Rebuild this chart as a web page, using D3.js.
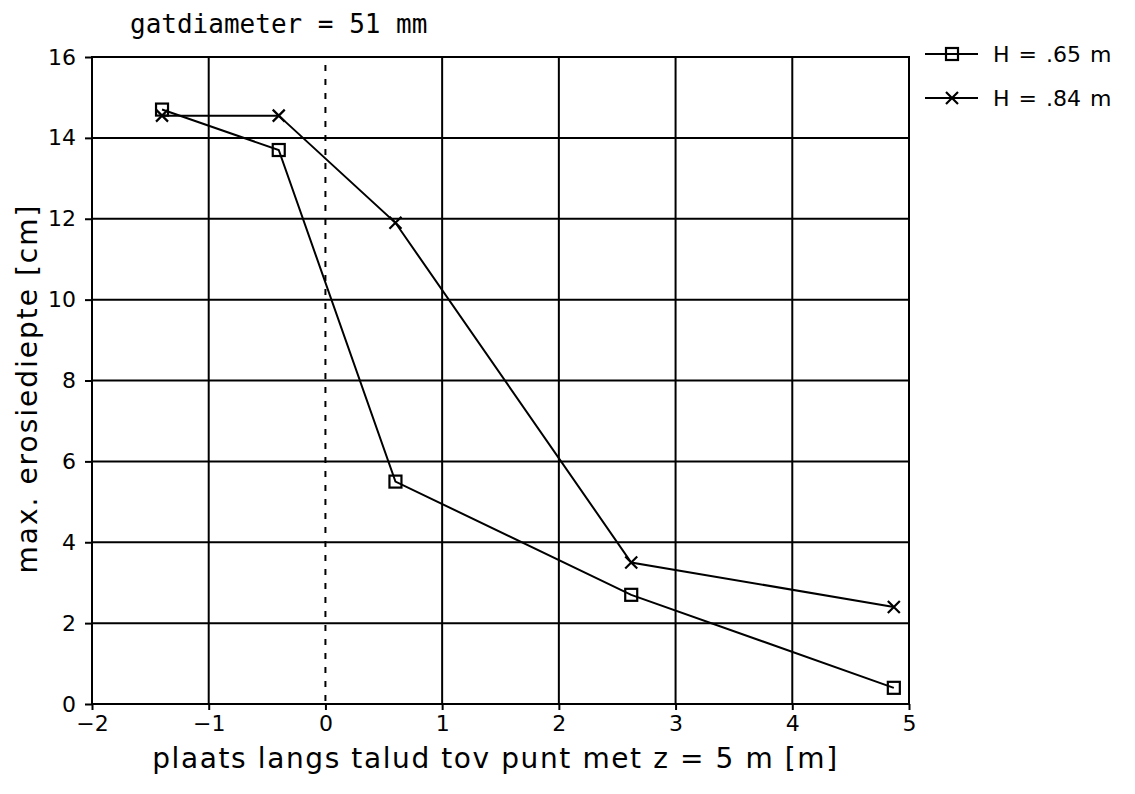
<!DOCTYPE html>
<html>
<head>
<meta charset="utf-8">
<script src="https://cdn.jsdelivr.net/npm/d3@7"></script>
<style>
  body { margin: 0; background: #fff; }
  svg { display: block; }
</style>
</head>
<body>
<div id="chart"></div>
<script>
const width = 1135
const height = 794

// data
const xPos = [-1.4, -0.4, 0.6, 2.62, 4.87]
const depth65 = [14.7, 13.7, 5.5, 2.7, 0.4]
const depth84 = [14.55, 14.55, 11.9, 3.5, 2.4]
const seriesNames = ["H = .65 m", "H = .84 m"]
const xTicks = [-2, -1, 0, 1, 2, 3, 4, 5]
const yTicks = [0, 2, 4, 6, 8, 10, 12, 14, 16]

// plot area edges ("top" clashes with window.top)
const pLeft = 92, pRight = 909, pTop = 57, pBottom = 704

const x = d3.scaleLinear().domain([-2, 5]).range([pLeft, pRight])
const y = d3.scaleLinear().domain([0, 16]).range([pBottom, pTop])

const svg = d3.select("#chart")
    .append("svg")
    .attr("width", width)
    .attr("height", height)

const sans = "'DejaVu Sans', sans-serif"

// grid
svg.append("g")
    .selectAll("line")
    .data(xTicks.filter(d => d !== 0))
    .join("line")
    .attr("x1", d => x(d)).attr("x2", d => x(d))
    .attr("y1", pTop).attr("y2", pBottom)
    .attr("stroke", "#000").attr("stroke-width", 2)

svg.append("g")
    .selectAll("line")
    .data(yTicks)
    .join("line")
    .attr("x1", pLeft).attr("x2", pRight)
    .attr("y1", d => y(d)).attr("y2", d => y(d))
    .attr("stroke", "#000").attr("stroke-width", 2)

// dotted line at x = 0
svg.append("line")
    .attr("x1", x(0)).attr("x2", x(0))
    .attr("y1", pTop + 8).attr("y2", pBottom)
    .attr("stroke", "#000").attr("stroke-width", 2)
    .attr("stroke-dasharray", "6,8")

// axes
const xAxis = svg.append("g")
    .attr("transform", `translate(0,${pBottom})`)
    .call(d3.axisBottom(x).tickValues(xTicks).tickSize(6).tickPadding(5)
        .tickFormat(d => d < 0 ? "\u2212" + Math.abs(d) : d))
const yAxis = svg.append("g")
    .attr("transform", `translate(${pLeft},0)`)
    .call(d3.axisLeft(y).tickValues(yTicks).tickSize(7).tickPadding(9))

for (const ax of [xAxis, yAxis]) {
  ax.attr("font-size", null).attr("font-family", null)
  ax.select(".domain").remove()
  ax.selectAll(".tick line").attr("stroke", "#000").attr("stroke-width", 2)
  ax.selectAll(".tick text")
      .attr("fill", "#000")
      .style("font-family", sans)
      .style("font-size", "22px")
}

// frame
svg.append("rect")
    .attr("x", pLeft).attr("y", pTop)
    .attr("width", pRight - pLeft).attr("height", pBottom - pTop)
    .attr("fill", "none").attr("stroke", "#000").attr("stroke-width", 2)

// series
const line = d3.line().x(d => x(d[0])).y(d => y(d[1]))
const pts65 = xPos.map((d, i) => [d, depth65[i]])
const pts84 = xPos.map((d, i) => [d, depth84[i]])

svg.append("path").datum(pts65).attr("d", line)
    .attr("fill", "none").attr("stroke", "#000").attr("stroke-width", 2)
svg.append("path").datum(pts84).attr("d", line)
    .attr("fill", "none").attr("stroke", "#000").attr("stroke-width", 2)

function square(g, cx, cy) {
  g.append("rect")
      .attr("x", cx - 6).attr("y", cy - 6)
      .attr("width", 12).attr("height", 12)
      .attr("fill", "none").attr("stroke", "#000").attr("stroke-width", 2.2)
}
function cross(g, cx, cy) {
  g.append("path")
      .attr("d", `M${cx - 6},${cy - 6}L${cx + 6},${cy + 6}M${cx - 6},${cy + 6}L${cx + 6},${cy - 6}`)
      .attr("stroke", "#000").attr("stroke-width", 2.2)
}

const marks = svg.append("g")
pts65.forEach(d => square(marks, x(d[0]), y(d[1])))
pts84.forEach(d => cross(marks, x(d[0]), y(d[1])))

// legend
const legendY = [54, 98]
const legend = svg.append("g")
seriesNames.forEach((name, i) => {
  legend.append("line")
      .attr("x1", 925).attr("x2", 978)
      .attr("y1", legendY[i]).attr("y2", legendY[i])
      .attr("stroke", "#000").attr("stroke-width", 2)
  if (i === 0) square(legend, 952, legendY[i])
  else cross(legend, 952, legendY[i])
  legend.append("text")
      .attr("x", 993).attr("y", legendY[i] + 8)
      .style("font-family", sans).style("font-size", "22px")
      .style("word-spacing", "2px")
      .text(name)
})

// title and axis labels
svg.append("text")
    .attr("x", 130).attr("y", 33)
    .style("font-family", "'DejaVu Sans Mono', monospace")
    .style("font-size", "26px")
    .text("gatdiameter = 51 mm")

svg.append("text")
    .attr("x", (pLeft + pRight) / 2 - 5).attr("y", 768)
    .attr("text-anchor", "middle")
    .style("font-family", sans).style("font-size", "28px")
    .style("letter-spacing", "1.6px")
    .text("plaats langs talud tov punt met z = 5 m [m]")

svg.append("text")
    .attr("transform", `translate(37,${(pTop + pBottom) / 2 + 8}) rotate(-90)`)
    .attr("text-anchor", "middle")
    .style("font-family", sans).style("font-size", "28px")
    .style("letter-spacing", "2px")
    .text("max. erosiediepte [cm]")
</script>
</body>
</html>
